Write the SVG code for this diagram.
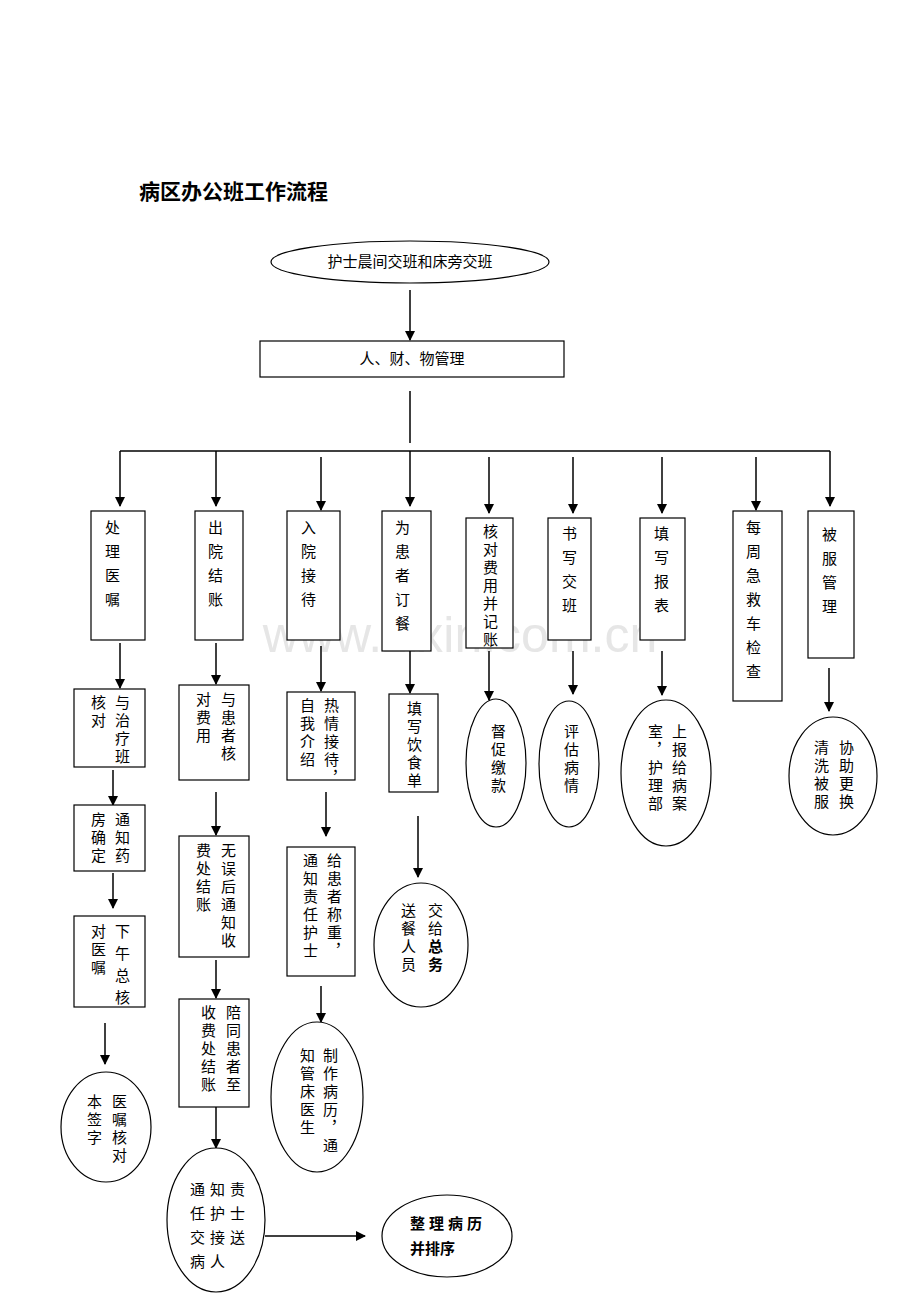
<svg xmlns="http://www.w3.org/2000/svg" width="920" height="1302" viewBox="0 0 920 1302">
<style>
text{font-family:"Liberation Serif","Noto Sans CJK SC",serif;font-size:15px;fill:#000}
.v{writing-mode:vertical-rl;letter-spacing:3px}
.v2{writing-mode:vertical-rl;letter-spacing:9px}
.b{font-weight:bold}
.n rect,.n ellipse{fill:#fff;stroke:#000;stroke-width:1.2}
#connectors line{stroke:#000;stroke-width:1.5}
#connectors line.a{marker-end:url(#ah)}
</style>
<defs><marker id="ah" markerWidth="10" markerHeight="10" refX="9" refY="5" orient="auto" markerUnits="userSpaceOnUse"><path d="M0,0 L10,5 L0,10 z" fill="#000"/></marker></defs>
<rect x="0" y="0" width="920" height="1302" fill="#fff"/>
<text x="139" y="199" class="b" style="font-size:21px">病区办公班工作流程</text>
<text x="460" y="652" text-anchor="middle" style="font-size:50px;fill:#e6e6e6;font-family:'Liberation Sans',sans-serif">www.zixin.com.cn</text>
<g id="connectors">
<line class="a" x1="410" y1="290" x2="410" y2="340"/>
<line x1="410" y1="391" x2="410" y2="443"/>
<line x1="120" y1="451" x2="830" y2="451"/>
<line class="a" x1="120" y1="451" x2="120" y2="506"/>
<line class="a" x1="216" y1="451" x2="216" y2="506"/>
<line class="a" x1="321" y1="457" x2="321" y2="510"/>
<line class="a" x1="410" y1="451" x2="410" y2="506"/>
<line class="a" x1="489" y1="457" x2="489" y2="513"/>
<line class="a" x1="573" y1="457" x2="573" y2="513"/>
<line class="a" x1="662" y1="457" x2="662" y2="513"/>
<line class="a" x1="756" y1="457" x2="756" y2="510"/>
<line class="a" x1="830" y1="451" x2="830" y2="506"/>
<line class="a" x1="120" y1="643" x2="120" y2="688"/>
<line class="a" x1="113" y1="770" x2="113" y2="805"/>
<line class="a" x1="113" y1="873" x2="113" y2="908"/>
<line class="a" x1="105" y1="1023" x2="105" y2="1064"/>
<line class="a" x1="216" y1="643" x2="216" y2="684"/>
<line class="a" x1="216" y1="792" x2="216" y2="835"/>
<line class="a" x1="216" y1="960" x2="216" y2="998"/>
<line class="a" x1="216" y1="1107" x2="216" y2="1148"/>
<line class="a" x1="265" y1="1236" x2="365" y2="1236"/>
<line class="a" x1="321" y1="646" x2="321" y2="691"/>
<line class="a" x1="326" y1="792" x2="326" y2="836"/>
<line class="a" x1="321" y1="986" x2="321" y2="1022"/>
<line class="a" x1="410" y1="651" x2="410" y2="693"/>
<line class="a" x1="418" y1="816" x2="418" y2="877"/>
<line class="a" x1="489" y1="651" x2="489" y2="700"/>
<line class="a" x1="573" y1="651" x2="573" y2="694"/>
<line class="a" x1="662" y1="651" x2="662" y2="695"/>
<line class="a" x1="829" y1="668" x2="829" y2="711"/>
</g>
<g id="n0" class="n"><ellipse cx="410" cy="262" rx="139" ry="21"/><text x="410" y="267" text-anchor="middle">护士晨间交班和床旁交班</text></g>
<g id="n1" class="n"><rect x="260" y="341" width="304" height="36"/><text x="412" y="364" text-anchor="middle">人、财、物管理</text></g>
<g id="t1" class="n"><rect x="91" y="511" width="54" height="129"/><text class="v2" x="111" y="520">处理医嘱</text></g>
<g id="t2" class="n"><rect x="195" y="511" width="48" height="129"/><text class="v2" x="214" y="520">出院结账</text></g>
<g id="t3" class="n"><rect x="287" y="511" width="53" height="129"/><text class="v2" x="307" y="520">入院接待</text></g>
<g id="t4" class="n"><rect x="382" y="511" width="49" height="140"/><text class="v2" x="401" y="520">为患者订餐</text></g>
<g id="t5" class="n"><rect x="466" y="518" width="47" height="130"/><text class="v" x="489" y="524">核对费用并记账</text></g>
<g id="t6" class="n"><rect x="548" y="518" width="43" height="122"/><text class="v2" x="568" y="526">书写交班</text></g>
<g id="t7" class="n"><rect x="640" y="518" width="45" height="122"/><text class="v2" x="660" y="526">填写报表</text></g>
<g id="t8" class="n"><rect x="733" y="511" width="49" height="190"/><text class="v2" x="752" y="520">每周急救车检查</text></g>
<g id="t9" class="n"><rect x="808" y="511" width="46" height="147"/><text class="v2" x="828" y="527">被服管理</text></g>
<g id="a1" class="n"><rect x="74" y="689" width="71" height="78"/><text class="v" x="121" y="695">与治疗班</text><text class="v" x="97" y="695">核对</text></g>
<g id="a2" class="n"><rect x="74" y="805" width="71" height="66"/><text class="v" x="121" y="812">通知药</text><text class="v" x="97" y="812">房确定</text></g>
<g id="a3" class="n"><rect x="74" y="916" width="71" height="91"/><text class="v" x="121" y="924" style="letter-spacing:7px">下午总核</text><text class="v" x="97" y="924">对医嘱</text></g>
<g id="a4" class="n"><ellipse cx="106" cy="1127" rx="45" ry="55"/><text class="v" x="118" y="1094">医嘱核对</text><text class="v" x="93" y="1094">本签字</text></g>
<g id="b1" class="n"><rect x="179" y="685" width="70" height="95"/><text class="v" x="227" y="692">与患者核</text><text class="v" x="202" y="692">对费用</text></g>
<g id="b2" class="n"><rect x="179" y="836" width="70" height="121"/><text class="v" x="227" y="843">无误后通知收</text><text class="v" x="202" y="843">费处结账</text></g>
<g id="b3" class="n"><rect x="179" y="999" width="70" height="108"/><text class="v" x="232" y="1005">陪同患者至</text><text class="v" x="207" y="1005">收费处结账</text></g>
<g id="b4" class="n"><ellipse cx="216" cy="1220" rx="49" ry="72"/><text x="190" y="1195" style="letter-spacing:5px">通知责</text><text x="190" y="1219" style="letter-spacing:5px">任护士</text><text x="190" y="1243" style="letter-spacing:5px">交接送</text><text x="190" y="1267" style="letter-spacing:5px">病人</text></g>
<g id="b5" class="n"><ellipse cx="447" cy="1236" rx="65" ry="41"/><text x="410" y="1229" class="b" style="letter-spacing:4px">整理病历</text><text x="410" y="1254" class="b">并排序</text></g>
<g id="c1" class="n"><rect x="287" y="692" width="68" height="88"/><text class="v" x="330" y="698">热情接待，</text><text class="v" x="306" y="698">自我介绍</text></g>
<g id="c2" class="n"><rect x="287" y="847" width="68" height="129"/><text class="v" x="333" y="853">给患者称重，</text><text class="v" x="309" y="853">通知责任护士</text></g>
<g id="c3" class="n"><ellipse cx="317" cy="1097" rx="46" ry="75"/><text class="v" x="329" y="1048">制作病历，通</text><text class="v" x="306" y="1048">知管床医生</text></g>
<g id="d1" class="n"><rect x="389" y="694" width="49" height="98"/><text class="v" x="413" y="701">填写饮食单</text></g>
<g id="d2" class="n"><ellipse cx="421" cy="945" rx="47" ry="62"/><text class="v" x="434" y="903">交给<tspan class="b">总务</tspan></text><text class="v" x="407" y="903">送餐人员</text></g>
<g id="e1" class="n"><ellipse cx="496" cy="763" rx="30" ry="64"/><text class="v" x="497" y="724">督促缴款</text></g>
<g id="f1" class="n"><ellipse cx="569" cy="764" rx="30" ry="63"/><text class="v" x="570" y="724">评估病情</text></g>
<g id="g1" class="n"><ellipse cx="666" cy="773" rx="45" ry="73"/><text class="v" x="678" y="724">上报给病案</text><text class="v" x="654" y="724">室，护理部</text></g>
<g id="i1" class="n"><ellipse cx="833" cy="776" rx="44" ry="59"/><text class="v" x="845" y="740">协助更换</text><text class="v" x="820" y="740">清洗被服</text></g>
</svg>
